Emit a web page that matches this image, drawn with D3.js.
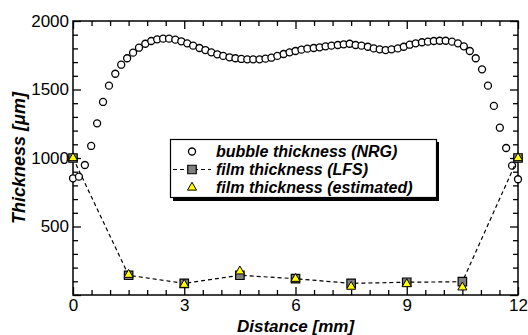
<!DOCTYPE html>
<html>
<head>
<meta charset="utf-8">
<script src="https://cdn.jsdelivr.net/npm/d3@7"></script>
<style>
  body { margin: 0; background: #fff; }
  svg { display: block; font-family: "Liberation Sans", Arial, sans-serif; }
</style>
</head>
<body>
<div id="chart"></div>
<script>
// bubble thickness (NRG)
const distance = [0, 0.16, 0.32, 0.49, 0.65, 0.81, 0.97, 1.14, 1.3, 1.46, 1.62, 1.78, 1.95, 2.11, 2.27,
  2.43, 2.59, 2.76, 2.92, 3.08, 3.24, 3.41, 3.57, 3.73, 3.89, 4.05, 4.22, 4.38, 4.54, 4.7, 4.86, 5.03,
  5.19, 5.35, 5.51, 5.68, 5.84, 6.0, 6.16, 6.32, 6.49, 6.65, 6.81, 6.97, 7.14, 7.3, 7.46, 7.62, 7.78,
  7.95, 8.11, 8.27, 8.43, 8.59, 8.76, 8.92, 9.08, 9.24, 9.41, 9.57, 9.73, 9.89, 10.05, 10.22, 10.38,
  10.54, 10.7, 10.86, 11.03, 11.19, 11.35, 11.51, 11.68, 11.84, 12.0];
const bubble = [852, 864, 949, 1088, 1253, 1409, 1528, 1615, 1681, 1728, 1769, 1805, 1834, 1854, 1866,
  1871, 1871, 1864, 1852, 1837, 1820, 1803, 1788, 1771, 1757, 1745, 1735, 1728, 1723, 1720, 1720, 1720,
  1725, 1732, 1745, 1759, 1771, 1781, 1791, 1798, 1803, 1808, 1815, 1820, 1825, 1830, 1834, 1825, 1820,
  1812, 1800, 1793, 1788, 1793, 1800, 1812, 1827, 1837, 1845, 1849, 1854, 1856, 1856, 1849, 1837,
  1815, 1781, 1728, 1647, 1528, 1380, 1221, 1073, 944, 845];

// film thickness
const filmX = [0, 1.5, 3, 4.5, 6, 7.5, 9, 10.5, 12];
const filmLFS = [1000, 144, 85, 144, 119, 85, 93, 97, 1000];
const filmEst = [1000, 148, 75, 173, 119, 61, 80, 56, 1000];

const xTicks = [0, 3, 6, 9, 12];
const yTicks = [0, 500, 1000, 1500, 2000];
const yTickLabels = ["0", "500", "1000", "1500", "2000"];
const legendLabels = ["bubble thickness (NRG)", "film thickness (LFS)", "film thickness (estimated)"];

const W = 528, H = 335;
const mLeft = 73, mRight = 518, mTop = 21, mBottom = 295;

const svg = d3.select("#chart").append("svg")
  .attr("width", W).attr("height", H);

const x = d3.scaleLinear().domain([0, 12]).range([mLeft, mRight]);
const y = d3.scaleLinear().domain([0, 2000]).range([mBottom, mTop]);

const xMinor = d3.range(0, 12.01, 0.5).filter(v => v % 3 !== 0);
const yMinor = d3.range(0, 2001, 100).filter(v => v % 500 !== 0);

function styleAxis(g) {
  g.select(".domain").remove();
  g.selectAll("line").attr("stroke", "#000").attr("stroke-width", 1.3);
  g.selectAll("text").attr("font-size", 17).attr("fill", "#000")
    .attr("font-family", "'Liberation Sans', Arial, sans-serif");
}

// bottom axis
svg.append("g").attr("transform", `translate(0,${mBottom})`)
  .call(d3.axisBottom(x).tickValues(xMinor).tickSize(-5).tickFormat(""))
  .call(styleAxis);
svg.append("g").attr("transform", `translate(0,${mBottom})`)
  .call(d3.axisBottom(x).tickValues(xTicks).tickSize(-8).tickPadding(4).tickFormat(d3.format("d")))
  .call(styleAxis);

// top axis
svg.append("g").attr("transform", `translate(0,${mTop})`)
  .call(d3.axisTop(x).tickValues(xMinor).tickSize(-5).tickFormat(""))
  .call(styleAxis);
svg.append("g").attr("transform", `translate(0,${mTop})`)
  .call(d3.axisTop(x).tickValues(xTicks).tickSize(-8).tickFormat(""))
  .call(styleAxis);

// left axis
svg.append("g").attr("transform", `translate(${mLeft},0)`)
  .call(d3.axisLeft(y).tickValues(yMinor).tickSize(-5).tickFormat(""))
  .call(styleAxis);
svg.append("g").attr("transform", `translate(${mLeft},0)`)
  .call(d3.axisLeft(y).tickValues(yTicks).tickSize(-8).tickPadding(4)
    .tickFormat((d, i) => yTickLabels[i]))
  .call(styleAxis)
  .call(g => g.selectAll(".tick").filter(d => d === 0).select("text").remove());

// right axis
svg.append("g").attr("transform", `translate(${mRight},0)`)
  .call(d3.axisRight(y).tickValues(yMinor).tickSize(-5).tickFormat(""))
  .call(styleAxis);
svg.append("g").attr("transform", `translate(${mRight},0)`)
  .call(d3.axisRight(y).tickValues(yTicks).tickSize(-8).tickFormat(""))
  .call(styleAxis);

// frame
svg.append("rect")
  .attr("x", mLeft).attr("y", mTop)
  .attr("width", mRight - mLeft).attr("height", mBottom - mTop)
  .attr("fill", "none").attr("stroke", "#000").attr("stroke-width", 1.5);

// bubble circles
svg.append("g").selectAll("circle")
  .data(distance.map((d, i) => [d, bubble[i]]))
  .join("circle")
  .attr("cx", d => x(d[0]))
  .attr("cy", d => y(d[1]))
  .attr("r", 3.5)
  .attr("fill", "#fff")
  .attr("stroke", "#000")
  .attr("stroke-width", 1.3);

// LFS dashed line + squares
const lfs = filmX.map((d, i) => [d, filmLFS[i]]);
svg.append("path")
  .datum(lfs)
  .attr("d", d3.line().x(d => x(d[0])).y(d => y(d[1])))
  .attr("fill", "none")
  .attr("stroke", "#000")
  .attr("stroke-width", 1.2)
  .attr("stroke-dasharray", "4,3");

const square = d3.symbol().type(d3.symbolSquare).size(72);
const triangle = d3.symbol().type(d3.symbolTriangle).size(36);

svg.append("g").selectAll("path")
  .data(lfs)
  .join("path")
  .attr("transform", d => `translate(${x(d[0])},${y(d[1])})`)
  .attr("d", square)
  .attr("fill", "#808080")
  .attr("stroke", "#000")
  .attr("stroke-width", 1.2);

svg.append("g").selectAll("path")
  .data(filmX.map((d, i) => [d, filmEst[i]]))
  .join("path")
  .attr("transform", d => `translate(${x(d[0])},${y(d[1])})`)
  .attr("d", triangle)
  .attr("fill", "#ffff00")
  .attr("stroke", "#000")
  .attr("stroke-width", 1);

// legend
const lg = svg.append("g");
lg.append("rect").attr("x", 173).attr("y", 142).attr("width", 266).attr("height", 59).attr("fill", "#000");
lg.append("rect").attr("x", 170.5).attr("y", 139.5).attr("width", 266).attr("height", 58)
  .attr("fill", "#fff").attr("stroke", "#000").attr("stroke-width", 1.2);

const rows = [151.5, 169.5, 187.5];
lg.append("circle").attr("cx", 192).attr("cy", rows[0]).attr("r", 3.5)
  .attr("fill", "#fff").attr("stroke", "#000").attr("stroke-width", 1.3);
lg.append("line").attr("x1", 173).attr("x2", 211).attr("y1", rows[1]).attr("y2", rows[1])
  .attr("stroke", "#000").attr("stroke-width", 1.2).attr("stroke-dasharray", "4,3");
lg.append("path").attr("transform", `translate(192,${rows[1]})`).attr("d", square)
  .attr("fill", "#808080").attr("stroke", "#000").attr("stroke-width", 1.2);
lg.append("path").attr("transform", `translate(192,${rows[2]})`).attr("d", triangle)
  .attr("fill", "#ffff00").attr("stroke", "#000").attr("stroke-width", 1);

lg.selectAll("text.lab")
  .data(legendLabels)
  .join("text")
  .attr("class", "lab")
  .attr("x", 216)
  .attr("y", (d, i) => rows[i] + 5.5)
  .attr("font-size", 16)
  .attr("font-weight", "bold")
  .attr("font-style", "italic")
  .text(d => d);

// axis titles
svg.append("text")
  .attr("x", (mLeft + mRight) / 2).attr("y", 331.5)
  .attr("text-anchor", "middle")
  .attr("font-size", 17).attr("font-weight", "bold").attr("font-style", "italic")
  .text("Distance [mm]");

svg.append("text")
  .attr("transform", `translate(25,${(mTop + mBottom) / 2}) rotate(-90)`)
  .attr("text-anchor", "middle")
  .attr("font-size", 18).attr("font-weight", "bold").attr("font-style", "italic")
  .text("Thickness [μm]");
</script>
</body>
</html>
